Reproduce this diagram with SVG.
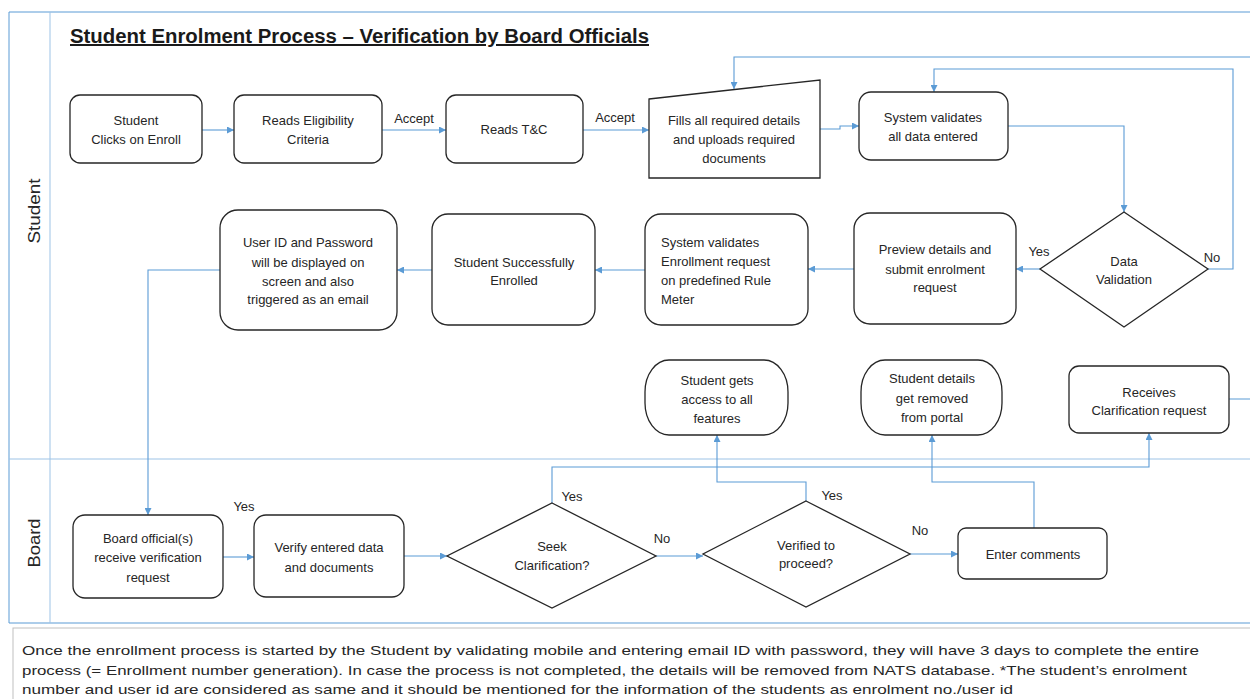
<svg xmlns="http://www.w3.org/2000/svg" width="1250" height="699" viewBox="0 0 1250 699">
  <defs>
    <style>
      .lane { stroke: #5B9BD5; stroke-width: 1; fill: none; }
      .lane2 { stroke: #9DC3E6; stroke-width: 1; fill: none; }
      .box { fill: #ffffff; stroke: #262626; stroke-width: 1.3; }
      .conn { fill: none; stroke: #5B9BD5; stroke-width: 1.1; }
      .arr { marker-end: url(#ah); }
      .t { font-family: "Liberation Sans", Arial, sans-serif; font-size: 13px; fill: #262626; text-anchor: middle; dominant-baseline: central; }
      .tl { text-anchor: start; }
      .lbl { font-family: "Liberation Sans", Arial, sans-serif; font-size: 13px; fill: #262626; text-anchor: middle; dominant-baseline: central; }
      .laneT { font-family: "Liberation Sans", Arial, sans-serif; font-size: 17px; fill: #262626; text-anchor: middle; dominant-baseline: central; }
      .title { font-family: "Liberation Sans", Arial, sans-serif; font-size: 20px; font-weight: bold; fill: #1a1a1a; }
      .foot { font-family: "Liberation Sans", Arial, sans-serif; font-size: 13.5px; fill: #262626; dominant-baseline: central; }
    </style>
    <marker id="ah" viewBox="0 0 10 10" refX="10" refY="5" markerWidth="8" markerHeight="7" markerUnits="userSpaceOnUse" orient="auto">
      <path d="M0,0 L10,5 L0,10 z" fill="#5B9BD5"/>
    </marker>
  </defs>

  <rect x="0" y="0" width="1250" height="699" fill="#ffffff"/>

  <!-- swimlane frame -->
  <g id="lanes">
    <path class="lane" d="M1252,12 H9 V623 H1252"/>
    <path class="lane2" d="M50,12 V623"/>
    <path class="lane2" d="M9,459 H1252"/>
    <text class="laneT" transform="translate(34,211) rotate(-90)" textLength="65" lengthAdjust="spacingAndGlyphs">Student</text>
    <text class="laneT" transform="translate(34,543) rotate(-90)" textLength="49" lengthAdjust="spacingAndGlyphs">Board</text>
  </g>

  <text id="title" class="title" x="70" y="43" text-decoration="underline" textLength="579" lengthAdjust="spacingAndGlyphs">Student Enrolment Process – Verification by Board Officials</text>

  <!-- connectors -->
  <g id="connectors">
    <path class="conn arr" d="M202,130 H234"/>
    <path class="conn arr" d="M382,130 H446"/>
    <path class="conn arr" d="M583,130 H649"/>
    <path class="conn arr" d="M820,129 H840 V126 H859"/>
    <path class="conn arr" d="M1008,126 H1124 V212"/>
    <path class="conn arr" d="M1208,269 H1233 V69 H934 V92"/>
    <path class="conn arr" d="M1229,399 H1262 V57 H734 V89"/>
    <path class="conn arr" d="M1040,269 H1016"/>
    <path class="conn arr" d="M854,269 H808"/>
    <path class="conn arr" d="M645,270 H595"/>
    <path class="conn arr" d="M432,270 H397"/>
    <path class="conn arr" d="M220,270 H148 V515"/>
    <path class="conn arr" d="M223,557 H254"/>
    <path class="conn arr" d="M404,556 H447"/>
    <path class="conn arr" d="M552,503 V467 H1149 V433"/>
    <path class="conn arr" d="M656,556 H703"/>
    <path class="conn arr" d="M806,501 V482 H717 V435"/>
    <path class="conn arr" d="M910,554 H958"/>
    <path class="conn arr" d="M1034,528 V482 H932 V435"/>
  </g>

  <!-- connector labels -->
  <g id="labels">
    <text class="lbl" x="414" y="118">Accept</text>
    <text class="lbl" x="615" y="117">Accept</text>
    <text class="lbl" x="1039" y="251">Yes</text>
    <text class="lbl" x="1212" y="257">No</text>
    <text class="lbl" x="244" y="506">Yes</text>
    <text class="lbl" x="572" y="496">Yes</text>
    <text class="lbl" x="832" y="495">Yes</text>
    <text class="lbl" x="920" y="530">No</text>
  </g>

  <g id="n-enroll">
    <rect class="box" x="70" y="95" width="132" height="68" rx="10"/>
    <text class="t" x="136" y="120">Student</text>
    <text class="t" x="136" y="139">Clicks on Enroll</text>
  </g>
  <g id="n-eligibility">
    <rect class="box" x="234" y="95" width="148" height="68" rx="10"/>
    <text class="t" x="308" y="120">Reads Eligibility</text>
    <text class="t" x="308" y="139">Criteria</text>
  </g>
  <g id="n-tc">
    <rect class="box" x="446" y="95" width="137" height="68" rx="10"/>
    <text class="t" x="514" y="129">Reads T&amp;C</text>
  </g>
  <g id="n-fill">
    <polygon class="box" points="649,99 820,80 820,178 649,178"/>
    <text class="t" x="734" y="120">Fills all required details</text>
    <text class="t" x="734" y="139">and uploads required</text>
    <text class="t" x="734" y="158">documents</text>
  </g>
  <g id="n-sysval">
    <rect class="box" x="859" y="92" width="149" height="68" rx="12"/>
    <text class="t" x="933" y="117">System validates</text>
    <text class="t" x="933" y="136">all data entered</text>
  </g>
  <g id="n-dataval">
    <polygon class="box" points="1124,212 1208,269 1124,327 1040,269"/>
    <text class="t" x="1124" y="261">Data</text>
    <text class="t" x="1124" y="279">Validation</text>
  </g>
  <g id="n-preview">
    <rect class="box" x="854" y="213" width="162" height="111" rx="16"/>
    <text class="t" x="935" y="249">Preview details and</text>
    <text class="t" x="935" y="269">submit enrolment</text>
    <text class="t" x="935" y="287">request</text>
  </g>
  <g id="n-rulemeter">
    <rect class="box" x="645" y="214" width="163" height="111" rx="16"/>
    <text class="t tl" x="661" y="242">System validates</text>
    <text class="t tl" x="661" y="261">Enrollment request</text>
    <text class="t tl" x="661" y="280">on predefined Rule</text>
    <text class="t tl" x="661" y="299">Meter</text>
  </g>
  <g id="n-enrolled">
    <rect class="box" x="432" y="214" width="163" height="111" rx="16"/>
    <text class="t" x="514" y="262">Student Successfully</text>
    <text class="t" x="514" y="280">Enrolled</text>
  </g>
  <g id="n-userid">
    <rect class="box" x="220" y="210" width="177" height="120" rx="18"/>
    <text class="t" x="308" y="242">User ID and Password</text>
    <text class="t" x="308" y="262">will be displayed on</text>
    <text class="t" x="308" y="281">screen and also</text>
    <text class="t" x="308" y="299">triggered as an email</text>
  </g>
  <g id="n-access">
    <rect class="box" x="645" y="360" width="143" height="75" rx="24" ry="32"/>
    <text class="t" x="717" y="380">Student gets</text>
    <text class="t" x="717" y="399">access to all</text>
    <text class="t" x="717" y="418">features</text>
  </g>
  <g id="n-removed">
    <rect class="box" x="861" y="360" width="141" height="75" rx="24" ry="32"/>
    <text class="t" x="932" y="378">Student details</text>
    <text class="t" x="932" y="398">get removed</text>
    <text class="t" x="932" y="417">from portal</text>
  </g>
  <g id="n-clarif-req">
    <rect class="box" x="1069" y="366" width="160" height="67" rx="10"/>
    <text class="t" x="1149" y="392">Receives</text>
    <text class="t" x="1149" y="410">Clarification request</text>
  </g>
  <g id="n-board-recv">
    <rect class="box" x="73" y="515" width="150" height="83" rx="12"/>
    <text class="t" x="148" y="538">Board official(s)</text>
    <text class="t" x="148" y="557">receive verification</text>
    <text class="t" x="148" y="577">request</text>
  </g>
  <g id="n-verify">
    <rect class="box" x="254" y="515" width="150" height="82" rx="12"/>
    <text class="t" x="329" y="547">Verify entered data</text>
    <text class="t" x="329" y="567">and documents</text>
  </g>
  <g id="n-seek">
    <polygon class="box" points="552,503 656,556 552,608 447,556"/>
    <text class="t" x="552" y="546">Seek</text>
    <text class="t" x="552" y="565">Clarification?</text>
  </g>
  <!-- "No" label sits on a white patch that clips the diamond edge -->
  <g id="label-seek-no">
    <rect x="646" y="528" width="30" height="20" fill="#ffffff"/>
    <text class="lbl" x="662" y="538">No</text>
  </g>
  <g id="n-verified">
    <polygon class="box" points="806,501 910,554 806,607 703,554"/>
    <text class="t" x="806" y="545">Verified to</text>
    <text class="t" x="806" y="563">proceed?</text>
  </g>
  <g id="n-comments">
    <rect class="box" x="958" y="528" width="149" height="51" rx="8"/>
    <text class="t" x="1033" y="554">Enter comments</text>
  </g>

  <!-- footnote -->
  <g id="note">
    <rect x="13" y="628" width="1245" height="80" fill="#ffffff" stroke="#BFBFBF" stroke-width="1"/>
    <text class="foot" x="22" y="650" textLength="1177" lengthAdjust="spacingAndGlyphs">Once the enrollment process is started by the Student by validating mobile and entering email ID with password, they will have 3 days to complete the entire</text>
    <text class="foot" x="22" y="670" textLength="1165" lengthAdjust="spacingAndGlyphs">process (= Enrollment number generation). In case the process is not completed, the details will be removed from NATS database. *The student’s enrolment</text>
    <text class="foot" x="22" y="689" textLength="991" lengthAdjust="spacingAndGlyphs">number and user id are considered as same and it should be mentioned for the information of the students as enrolment no./user id</text>
  </g>
</svg>
